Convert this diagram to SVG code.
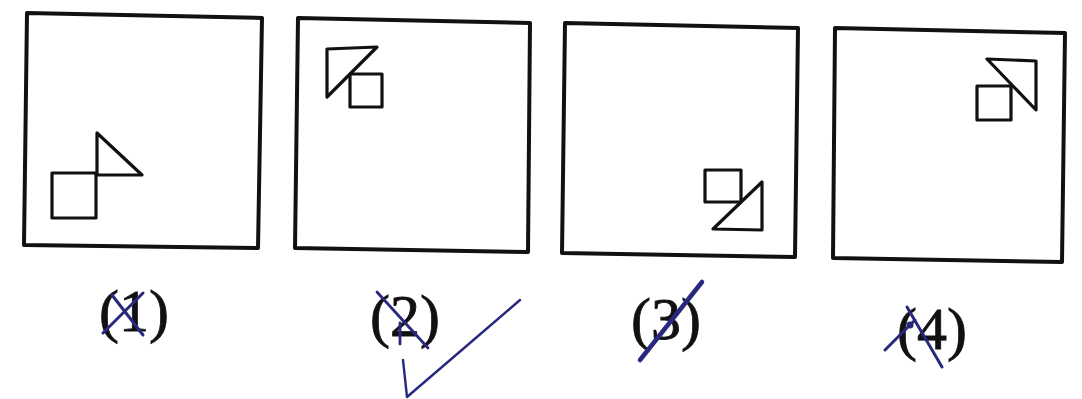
<svg xmlns="http://www.w3.org/2000/svg" width="1082" height="399" viewBox="0 0 1082 399">
<style>
.box{fill:none;stroke:#111;stroke-width:4;stroke-linejoin:round}
.fig{fill:none;stroke:#111;stroke-width:3.2;stroke-linejoin:round}
.lbl{font-family:"Liberation Serif","Times New Roman",serif;font-size:60px;fill:#111;stroke:#111;stroke-width:0.8;text-anchor:middle}
.ink{fill:none;stroke:#28287e;stroke-linecap:round;stroke-linejoin:round}
</style>
<rect width="1082" height="399" fill="#fff"/>
<g id="panel1">
<polygon class="box" points="27,13 262,18 258,248 24,245"/>
<rect class="fig" x="52" y="173" width="44" height="45"/>
<polygon class="fig" points="97,133 97,175 142,175"/>
<text class="lbl" x="134" y="331">(1)</text>
<path class="ink" stroke-width="3" d="M112,295 L143,335 M143,293 L103,333"/>
</g>
<g id="panel2">
<polygon class="box" points="298,18 530,23 528,252 295,248"/>
<polygon class="fig" points="327,49 377,47 327,97"/>
<rect class="fig" x="350" y="74" width="32" height="33"/>
<text class="lbl" x="405" y="336">(2)</text>
<path class="ink" stroke-width="2.8" d="M377,292 L428,348 M400,323 L400,344"/>
<path class="ink" stroke-width="2.4" d="M403,360 L407,397 L520,300"/>
</g>
<g id="panel3">
<polygon class="box" points="565,23 798,28 795,257 562,253"/>
<rect class="fig" x="705" y="170" width="36" height="32"/>
<polygon class="fig" points="762,182 762,230 713,229"/>
<text class="lbl" x="666" y="339">(3)</text>
<path class="ink" stroke-width="4.5" d="M640,360 L702,282"/>
</g>
<g id="panel4">
<polygon class="box" points="835,28 1065,33 1062,262 833,258"/>
<polygon class="fig" points="987,59 1036,61 1036,110"/>
<rect class="fig" x="977" y="86" width="34" height="34"/>
<text class="lbl" x="932" y="349">(4)</text>
<path class="ink" stroke-width="3" d="M885,350 L915,320 M907,307 L942,367"/>
<circle cx="910" cy="325" r="3.5" fill="#28287e"/>
</g>
</svg>
